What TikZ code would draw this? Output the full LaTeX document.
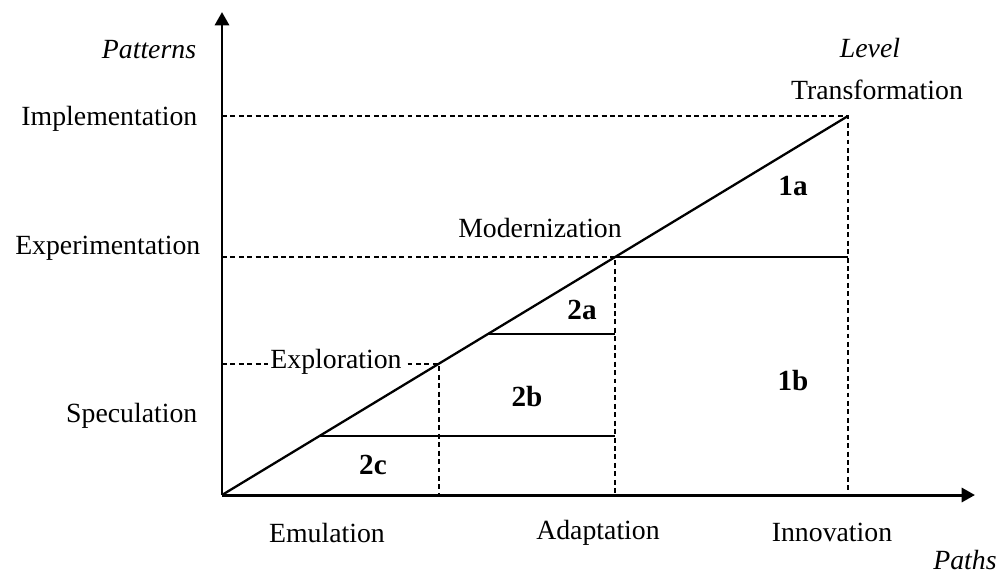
\documentclass[tikz,border=0pt]{standalone}
\usepackage{fontspec}
\setmainfont{Liberation Serif}
\usetikzlibrary{arrows.meta}

\begin{document}
\begin{tikzpicture}[
  font=\fontsize{7.9}{9.5}\selectfont,
  axis/.style={-{Triangle[length=3.8pt,width=4pt]}, line width=0.85pt},
  edge/.style={line width=0.65pt},
  guide/.style={line width=0.7pt, dash pattern=on 1.4pt off 1pt},
  lbl/.style={inner sep=0pt},
  zone/.style={inner sep=0pt, font=\fontsize{8.3}{10}\selectfont\bfseries}
]
\useasboundingbox (-2.22,-0.76) rectangle (7.80,4.95);
% points
\coordinate (O)      at (0,0);
\coordinate (ytip)   at (0,4.83);
\coordinate (xtip)   at (7.53,0);
\coordinate (T)      at (6.26,3.79);
\coordinate (Timp)   at (0,3.79);
\coordinate (Tinn)   at (6.26,0);
\coordinate (M)      at (3.93,2.38);
\coordinate (Mexp)   at (0,2.38);
\coordinate (Madp)   at (3.93,0);
\coordinate (Mend)   at (6.26,2.38);
\coordinate (A)      at (2.66,1.61);
\coordinate (Aend)   at (3.93,1.61);
\coordinate (E)      at (2.17,1.31);
\coordinate (Espc)   at (0,1.31);
\coordinate (Ebot)   at (2.17,0);
\coordinate (C)      at (0.97,0.59);
\coordinate (Cend)   at (3.93,0.59);
% guides
\draw[guide] (Timp) -- (T) -- (Tinn);
\draw[guide] (Mexp) -- (M) -- (Madp);
\draw[guide] (Espc) -- (E) -- (Ebot);
\node[lbl, fill=white, inner sep=0.6pt] (explor) at (1.14,1.33) {Exploration};
% levels
\draw[edge] (M) -- (Mend);
\draw[edge] (A) -- (Aend);
\draw[edge] (C) -- (Cend);
\draw[edge] (O) -- (T);
% axes
\draw[axis] (O) -- (ytip);
\draw[axis] (O) -- (xtip);
% axis labels
\node[lbl] (patterns) at (-0.73,4.45) {\itshape Patterns};
\node[lbl] (paths)    at (7.43,-0.65) {\itshape Paths};
\node[lbl] (level)    at (6.48,4.47) {\itshape Level};
\node[lbl] (transf)   at (6.55,4.05) {Transformation};
\node[lbl] (modern)   at (3.18,2.67) {Modernization};
\node[lbl, anchor=east] (impl)  at (-0.24,3.76) {Implementation};
\node[lbl, anchor=east] (exper) at (-0.21,2.47) {Experimentation};
\node[lbl, anchor=east] (specu) at (-0.24,0.79) {Speculation};
\node[lbl] (emul)  at (1.05,-0.38) {Emulation};
\node[lbl] (adapt) at (3.76,-0.38) {Adaptation};
\node[lbl] (innov) at (6.10,-0.37) {Innovation};
% zones
\node[zone] (z1a) at (5.71,3.09) {1a};
\node[zone] (z1b) at (5.71,1.14) {1b};
\node[zone] (z2a) at (3.60,1.85) {2a};
\node[zone] (z2b) at (3.05,0.98) {2b};
\node[zone] (z2c) at (1.51,0.30) {2c};
\end{tikzpicture}
\end{document}
